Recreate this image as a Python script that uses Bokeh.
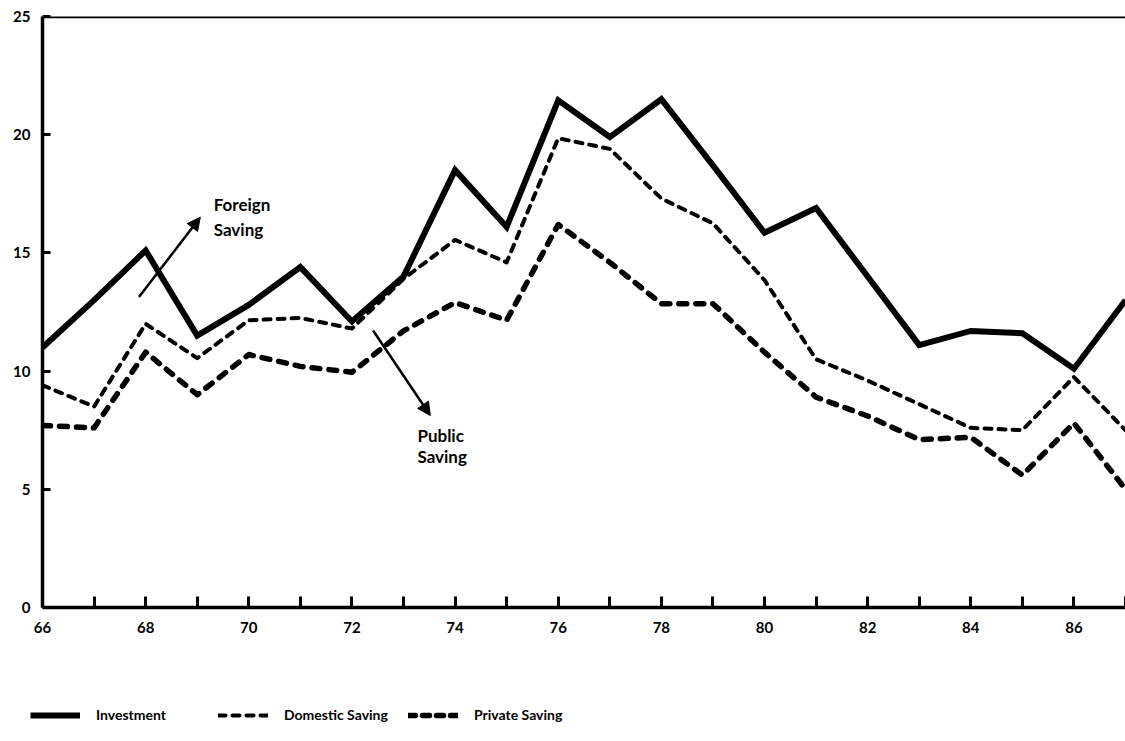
from bokeh.plotting import figure
from bokeh.models import (Range1d, FixedTicker, Span, Arrow, NormalHead, Label,
                          Legend, LegendItem)
from bokeh.layouts import column
from bokeh.embed import file_html
from bokeh.resources import INLINE

years = list(range(66, 88))
investment = [11.0, 13.0, 15.1, 11.5, 12.8, 14.4, 12.1, 14.0, 18.5, 16.1, 21.45,
              19.9, 21.5, 18.7, 15.85, 16.9, 14.0, 11.1, 11.7, 11.6, 10.1, 13.0]
domestic_saving = [9.4, 8.5, 12.0, 10.55, 12.15, 12.25, 11.8, 13.9, 15.55, 14.6, 19.85,
                   19.4, 17.3, 16.25, 13.85, 10.5, 9.6, 8.6, 7.6, 7.5, 9.75, 7.5]
private_saving = [7.7, 7.6, 10.8, 9.0, 10.7, 10.2, 9.95, 11.7, 12.9, 12.15, 16.2,
                  14.6, 12.85, 12.85, 10.8, 8.9, 8.1, 7.1, 7.2, 5.6, 7.8, 5.0]
y_ticks = [0, 5, 10, 15, 20, 25]
x_label_years = list(range(66, 88, 2))

FONT = "Lato"

p = figure(width=1125, height=660, output_backend="svg", toolbar_location=None,
           x_range=Range1d(66, 87), y_range=Range1d(0, 25),
           min_border_left=42, min_border_right=0, min_border_top=16, min_border_bottom=53)
p.frame_align = False
p.outline_line_color = None
p.grid.visible = False
p.background_fill_color = "white"
p.border_fill_color = "white"

for ax in (p.xaxis[0], p.yaxis[0]):
    ax.axis_line_width = 3.5
    ax.axis_line_color = "black"
    ax.major_tick_line_width = 3
    ax.major_tick_line_color = "black"
    ax.major_tick_out = 0
    ax.minor_tick_line_color = None
    ax.major_label_text_font = FONT
    ax.major_label_text_font_style = "bold"
    ax.major_label_text_font_size = "15px"
    ax.major_label_text_color = "black"

p.xaxis.ticker = FixedTicker(ticks=years)
p.xaxis.major_label_overrides = {y: (str(y) if y in x_label_years else "") for y in years}
p.xaxis.major_tick_in = 11
p.xaxis.major_label_standoff = 14
p.yaxis.ticker = FixedTicker(ticks=y_ticks)
p.yaxis.major_tick_in = 8
p.yaxis.major_label_standoff = 12

p.add_layout(Span(location=25, dimension="width", line_color="black", line_width=3.5))

p.line(years, investment, line_color="black", line_width=6, line_join="miter")
p.line(years, domestic_saving, line_color="black", line_width=4, line_dash="7 7",
       line_cap="round", line_join="round")
p.line(years, private_saving, line_color="black", line_width=5.5, line_dash="8 9",
       line_cap="round", line_join="round")

# annotations
p.add_layout(Arrow(end=NormalHead(size=13, fill_color="black", line_color="black"),
                   x_start=67.87, y_start=13.13, x_end=69.06, y_end=16.51,
                   line_width=2.5, line_color="black"))
p.add_layout(Arrow(end=NormalHead(size=13, fill_color="black", line_color="black"),
                   x_start=72.41, y_start=11.72, x_end=73.52, y_end=8.12,
                   line_width=2.5, line_color="black"))
for txt, xx, yy in [("Foreign", 69.32, 17.5), ("Saving", 69.32, 16.45),
                    ("Public", 73.27, 7.7), ("Saving", 73.27, 6.85)]:
    p.add_layout(Label(x=xx, y=yy, text=txt, text_font=FONT, text_font_style="bold",
                       text_font_size="17px", text_baseline="top", text_color="black"))

# legend figure
lg = figure(width=1125, height=81, output_backend="svg", toolbar_location=None,
            x_axis_type=None, y_axis_type=None, x_range=Range1d(0, 1), y_range=Range1d(0, 1),
            min_border_left=0, min_border_right=0, min_border_top=0, min_border_bottom=0)
lg.frame_align = False
lg.outline_line_color = None
lg.grid.visible = False
r1 = lg.line([-5, -4], [-5, -5], line_color="black", line_width=6)
r2 = lg.line([-5, -4], [-5, -5], line_color="black", line_width=4, line_dash="7 7",
             line_cap="round")
r3 = lg.line([-5, -4], [-5, -5], line_color="black", line_width=5.5, line_dash="7 7",
             line_cap="round")
for label, r, xloc in [("Investment", r1, 30), ("Domestic Saving", r2, 218),
                       ("Private Saving", r3, 408)]:
    leg = Legend(items=[LegendItem(label=label, renderers=[r])], location=(xloc, 18),
                 glyph_width=50, glyph_height=12, label_standoff=16, padding=0, margin=0,
                 border_line_color=None, background_fill_alpha=0,
                 label_text_font=FONT, label_text_font_style="bold",
                 label_text_font_size="14px", label_text_color="black")
    lg.add_layout(leg)

layout = column(p, lg, spacing=0)
open("out.html", "w").write(file_html(layout, INLINE))
